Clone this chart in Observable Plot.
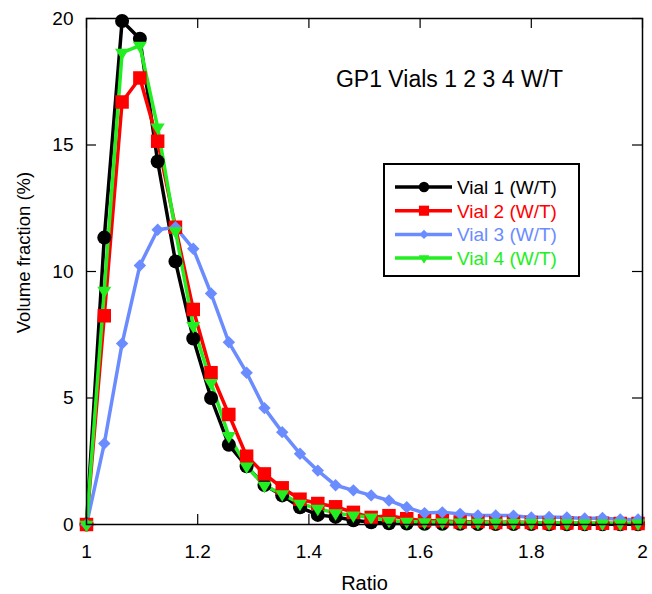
<!DOCTYPE html>
<html>
<head>
<meta charset="utf-8">
<script src="https://cdn.jsdelivr.net/npm/d3@7"></script>
<script src="https://cdn.jsdelivr.net/npm/@observablehq/plot@0.6"></script>
<style>
  body { margin: 0; background: #fff; }
  #chart { position: relative; width: 652px; height: 594px; }
</style>
</head>
<body>
<div id="chart"></div>
<script>
const ratio = [1, 1.032, 1.064, 1.096, 1.128, 1.16, 1.192, 1.224, 1.256, 1.288, 1.32, 1.352, 1.384, 1.416, 1.448, 1.48, 1.512, 1.544, 1.576, 1.608, 1.64, 1.672, 1.704, 1.736, 1.768, 1.8, 1.832, 1.864, 1.896, 1.928, 1.96, 1.992];
const vial1 = [0, 11.34, 19.9, 19.2, 14.35, 10.4, 7.35, 5.0, 3.15, 2.3, 1.56, 1.15, 0.68, 0.38, 0.3, 0.17, 0.09, 0.05, 0.04, 0.03, 0.03, 0.03, 0.02, 0.02, 0.02, 0.02, 0.01, 0.01, 0.01, 0.01, 0.01, 0.01];
const vial2 = [0, 8.25, 16.7, 17.65, 15.15, 11.75, 8.5, 6.0, 4.35, 2.7, 2.0, 1.45, 1.0, 0.83, 0.7, 0.48, 0.28, 0.35, 0.23, 0.15, 0.15, 0.1, 0.12, 0.08, 0.1, 0.08, 0.06, 0.06, 0.05, 0.05, 0.04, 0.04];
const vial3 = [0, 3.2, 7.15, 10.24, 11.65, 11.75, 10.9, 9.13, 7.2, 6.0, 4.6, 3.65, 2.8, 2.13, 1.55, 1.35, 1.15, 0.95, 0.68, 0.45, 0.48, 0.42, 0.36, 0.36, 0.35, 0.28, 0.3, 0.28, 0.24, 0.26, 0.2, 0.2];
const vial4 = [0, 9.25, 18.65, 18.93, 15.7, 11.6, 7.85, 5.6, 3.5, 2.3, 1.54, 1.2, 0.83, 0.63, 0.45, 0.36, 0.28, 0.15, 0.12, 0.1, 0.1, 0.09, 0.08, 0.08, 0.07, 0.07, 0.06, 0.06, 0.05, 0.05, 0.05, 0.05];
const seriesNames = ["Vial 1 (W/T)", "Vial 2 (W/T)", "Vial 3 (W/T)", "Vial 4 (W/T)"];
const seriesColors = ["#000000", "#ff0000", "#6b8cff", "#22ee22"];
const xTicks = [1, 1.2, 1.4, 1.6, 1.8, 2];
const yTicks = [0, 5, 10, 15, 20];
const titleText = "GP1 Vials 1 2 3 4 W/T";
const xLabel = "Ratio";
const yLabel = "Volume fraction (%)";

const FONT = "'Liberation Sans', Arial, sans-serif";

const triangleDown = {
  draw(context, size) {
    const s = Math.sqrt(size);
    const w = s * 0.55, h = s * 0.9;
    context.moveTo(-w, -h / 3);
    context.lineTo(w, -h / 3);
    context.lineTo(0, (2 * h) / 3);
    context.closePath();
  }
};
const symbols = ["circle", "square", "diamond2", triangleDown];
const radii = [7, 7.6, 5.6, 7.2];

const allSeries = [vial1, vial2, vial3, vial4];
const rows = allSeries.map((vals, s) => ratio.map((x, i) => ({x, y: vals[i], s})));

const W = 652, H = 594, mL = 86, mR = 10, mT = 18, mB = 70;
const innerH = H - mT - mB, innerW = W - mL - mR;

const marks = [];
rows.forEach((data, s) => {
  marks.push(Plot.line(data, {x: "x", y: "y", stroke: seriesColors[s], strokeWidth: 3.5, strokeLinejoin: "miter"}));
});
rows.forEach((data, s) => {
  marks.push(Plot.dot(data, {x: "x", y: "y", symbol: symbols[s], r: radii[s], fill: seriesColors[s], stroke: "none"}));
});

const chart = Plot.plot({
  width: W,
  height: H,
  marginLeft: mL,
  marginRight: mR,
  marginTop: mT,
  marginBottom: mB,
  style: {fontFamily: FONT, fontSize: "19px", background: "#fff", color: "#000"},
  x: {domain: [1, 2]},
  y: {domain: [0, 20]},
  marks: [
    Plot.axisX(xTicks, {tickSize: 0, tickPadding: 20, fontSize: 19, label: null, tickFormat: d => String(d)}),
    Plot.axisY(yTicks, {tickSize: 0, tickPadding: 13, fontSize: 19, label: null}),
    Plot.text([xLabel], {frameAnchor: "bottom", dy: 59, lineAnchor: "middle", fontSize: 20, fill: "black"}),
    Plot.text([yLabel], {frameAnchor: "left", dx: -62, dy: -19, rotate: -90, textAnchor: "middle", lineAnchor: "middle", fontSize: 18.5, fill: "black"}),
    Plot.ruleX(xTicks, {x: d => d, insetTop: innerH - 10, stroke: "black", strokeWidth: 1.2}),
    Plot.ruleX(xTicks, {x: d => d, insetBottom: innerH - 10, stroke: "black", strokeWidth: 1.2}),
    Plot.ruleY(yTicks, {y: d => d, insetRight: innerW - 10, stroke: "black", strokeWidth: 1.2}),
    Plot.ruleY(yTicks, {y: d => d, insetLeft: innerW - 10, stroke: "black", strokeWidth: 1.2}),
    ...marks,
    Plot.frame({stroke: "black", strokeWidth: 1.5}),
    Plot.text([titleText], {frameAnchor: "top", dx: 85, dy: 61, fontSize: 23, fill: "black", lineAnchor: "middle"})
  ]
});
document.getElementById("chart").appendChild(chart);

// legend
const svg = d3.select(chart);
const lg = svg.append("g").attr("style", `font-family: ${FONT}; font-size: 19px; text-anchor: start;`);
lg.append("rect").attr("x", 384).attr("y", 164).attr("width", 195).attr("height", 112)
  .attr("fill", "white").attr("stroke", "black").attr("stroke-width", 2);
seriesNames.forEach((name, i) => {
  const y = 187 + i * 23.7;
  lg.append("line").attr("x1", 395).attr("x2", 452).attr("y1", y).attr("y2", y)
    .attr("stroke", seriesColors[i]).attr("stroke-width", 3.5);
  const sym = typeof symbols[i] === "string" ? {circle: d3.symbolCircle, square: d3.symbolSquare, diamond2: d3.symbolDiamond2}[symbols[i]] : symbols[i];
  const r = radii[i] * 0.75;
  lg.append("path").attr("d", d3.symbol(sym, Math.PI * r * r)()).attr("transform", `translate(424,${y})`).attr("fill", seriesColors[i]);
  lg.append("text").attr("x", 457).attr("y", y + 7).attr("fill", seriesColors[i]).attr("text-anchor", "start").text(name);
});
</script>
</body>
</html>
